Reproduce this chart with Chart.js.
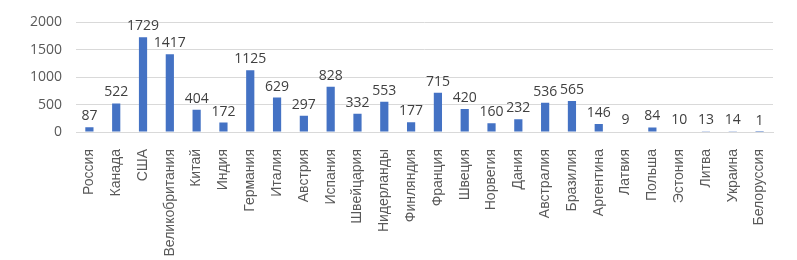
<!DOCTYPE html>
<html><head><meta charset="utf-8">
<script src="https://cdn.jsdelivr.net/npm/chart.js@4/dist/chart.umd.min.js"></script>
<style>html,body{margin:0;padding:0;background:#fff}#w{width:797px;height:260px}</style>
</head><body><div id="w"><canvas id="c"></canvas></div>
<script>
const categories = ["Россия","Канада","США","Великобритания","Китай","Индия","Германия","Италия","Австрия","Испания","Швейцария","Нидерланды","Финляндия","Франция","Швеция","Норвегия","Дания","Австралия","Бразилия","Аргентина","Латвия","Польша","Эстония","Литва","Украина","Белоруссия"];
const values = [87,522,1729,1417,404,172,1125,629,297,828,332,553,177,715,420,160,232,536,565,146,9,84,10,13,14,1];
const yTicks = [0,500,1000,1500,2000];

const valueLabels = {
  id: 'valueLabels',
  afterDatasetsDraw(chart) {
    const ctx = chart.ctx;
    const meta = chart.getDatasetMeta(0);
    ctx.save();
    ctx.font = '14px "Open Sans", sans-serif';
    ctx.fillStyle = '#404040';
    ctx.textAlign = 'center';
    ctx.textBaseline = 'bottom';
    meta.data.forEach((bar, i) => {
      ctx.fillText(String(values[i]), bar.x, bar.y - 4);
    });
    ctx.restore();
  }
};

new Chart(document.getElementById('c'), {
  type: 'bar',
  data: { labels: categories, datasets: [{ data: values, backgroundColor: '#4472C4', barPercentage: 0.36, categoryPercentage: 0.85 }] },
  options: {
    responsive: true, maintainAspectRatio: false, animation: false,
    layout: { padding: { left: 0, right: 24, top: 14, bottom: 0 } },
    plugins: { legend: { display: false }, tooltip: { enabled: false } },
    scales: {
      x: {
        afterFit: (s) => { s.height = 128; },
        grid: { display: false },
        border: { display: true, color: '#d9d9d9' },
        ticks: { color: '#595959', font: { size: 14, family: '"Liberation Sans", sans-serif' }, minRotation: 90, maxRotation: 90, padding: 9, autoSkip: false }
      },
      y: {
        min: 0, max: 2000,
        afterBuildTicks: (s) => { s.ticks = yTicks.map(v => ({ value: v })); },
        afterFit: (s) => { s.width = 76; },
        grid: { color: '#d9d9d9', drawTicks: false },
        border: { display: false },
        ticks: { color: '#595959', font: { size: 14, family: '"Open Sans", sans-serif' }, padding: 14, callback: (v) => String(v) }
      }
    }
  },
  plugins: [valueLabels]
});
</script>
</body></html>
